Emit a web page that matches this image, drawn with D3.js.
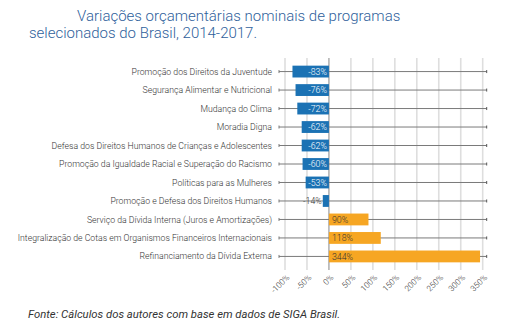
<!DOCTYPE html>
<html>
<head>
<meta charset="utf-8">
<script src="https://cdn.jsdelivr.net/npm/d3@7"></script>
<style>
  body { margin: 0; background: #fff; }
</style>
</head>
<body>
<div id="container"></div>
<script>
// data
const programas = [
  "Promoção dos Direitos da Juventude",
  "Segurança Alimentar e Nutricional",
  "Mudança do Clima",
  "Moradia Digna",
  "Defesa dos Direitos Humanos de Crianças e Adolescentes",
  "Promoção da Igualdade Racial e Superação do Racismo",
  "Políticas para as Mulheres",
  "Promoção e Defesa dos Direitos Humanos",
  "Serviço da Dívida Interna (Juros e Amortizações)",
  "Integralização de Cotas em Organismos Financeiros Internacionais",
  "Refinanciamento da Dívida Externa"
];
const variacoes = [-83, -76, -72, -62, -62, -60, -53, -14, 90, 118, 344];
const ticks = [-100, -50, 0, 50, 100, 150, 200, 250, 300, 350];

let viz = d3.select("#container")
  .append("svg")
    .attr("width", 505)
    .attr("height", 335);

let x = d3.scaleLinear().domain([-100, 350]).range([285, 482.7]);
let y = d3.scaleBand().domain(programas).range([59, 269]).padding(0.36);

// title
viz.append("text")
    .text("Variações orçamentárias nominais de programas")
    .attr("font-family", "Roboto")
    .attr("font-weight", 300)
    .attr("font-size", 15)
    .attr("fill", "#2f5f9c")
    .attr("x", 77)
    .attr("y", 21);

viz.append("text")
    .text("selecionados do Brasil, 2014-2017.")
    .attr("font-family", "Roboto")
    .attr("font-weight", 300)
    .attr("font-size", 15)
    .attr("fill", "#2f5f9c")
    .attr("x", 29)
    .attr("y", 38);

// vertical gridlines
viz.append("g")
  .selectAll("line")
  .data(ticks)
  .join("line")
    .attr("x1", d => x(d))
    .attr("x2", d => x(d))
    .attr("y1", 58)
    .attr("y2", 270)
    .attr("stroke", d => d === 0 ? "#9a9a9a" : "#dedede")
    .attr("stroke-width", d => d === 0 ? 1.2 : 1.6);

// horizontal category lines
let x0 = x.range()[0] - 6, x1 = x.range()[1] + 4;
let rows = viz.append("g")
  .selectAll("g")
  .data(programas)
  .join("g")
    .attr("transform", d => "translate(0," + (y(d) + y.bandwidth() / 2) + ")");

rows.append("line")
    .attr("x1", x0).attr("x2", x1)
    .attr("stroke", "#7a7a7a")
    .attr("stroke-width", 1);
rows.append("line")
    .attr("x1", x0).attr("x2", x0).attr("y1", -1.5).attr("y2", 1.5)
    .attr("stroke", "#7a7a7a");
rows.append("line")
    .attr("x1", x1).attr("x2", x1).attr("y1", -1.5).attr("y2", 1.5)
    .attr("stroke", "#555");

rows.append("text")
    .text(d => d)
    .attr("x", 272)
    .attr("dy", "0.35em")
    .attr("text-anchor", "end")
    .attr("font-family", "Roboto")
    .attr("font-weight", 300)
    .attr("font-size", 8.7)
    .attr("fill", "#333");

// bars
viz.append("g")
  .selectAll("rect")
  .data(variacoes)
  .join("rect")
    .attr("x", d => x(Math.min(0, d)))
    .attr("width", d => Math.abs(x(d) - x(0)))
    .attr("y", (d, i) => y(programas[i]))
    .attr("height", y.bandwidth())
    .attr("fill", d => d < 0 ? "#1b72b4" : "#f6a623");

// bar labels (short bars get the label outside)
viz.append("g")
  .selectAll("text")
  .data(variacoes)
  .join("text")
    .text(d => d + "%")
    .attr("x", d => d < 0 ? (d > -20 ? x(d) - 1 : x(0) - 2) : x(0) + 3)
    .attr("y", (d, i) => y(programas[i]) + y.bandwidth() / 2)
    .attr("dy", "0.36em")
    .attr("text-anchor", d => d < 0 ? "end" : "start")
    .attr("font-family", "Roboto")
    .attr("font-weight", 300)
    .attr("font-size", 8.8)
    .attr("fill", d => d < -20 ? "#fff" : "#333");

// x axis labels
viz.append("g")
  .selectAll("text")
  .data(ticks)
  .join("text")
    .text(d => d + "%")
    .attr("transform", d => "translate(" + (x(d) + 3) + ",276) rotate(-45)")
    .attr("text-anchor", "end")
    .attr("dy", "0.35em")
    .attr("font-family", "Roboto")
    .attr("font-weight", 300)
    .attr("font-size", 8.2)
    .attr("fill", "#333");

// source
viz.append("text")
    .text("Fonte: Cálculos dos autores com base em dados de SIGA Brasil.")
    .attr("font-family", "Roboto")
    .attr("font-style", "italic")
    .attr("font-size", 11.3)
    .attr("fill", "#333")
    .attr("x", 28)
    .attr("y", 318);
</script>
</body>
</html>
